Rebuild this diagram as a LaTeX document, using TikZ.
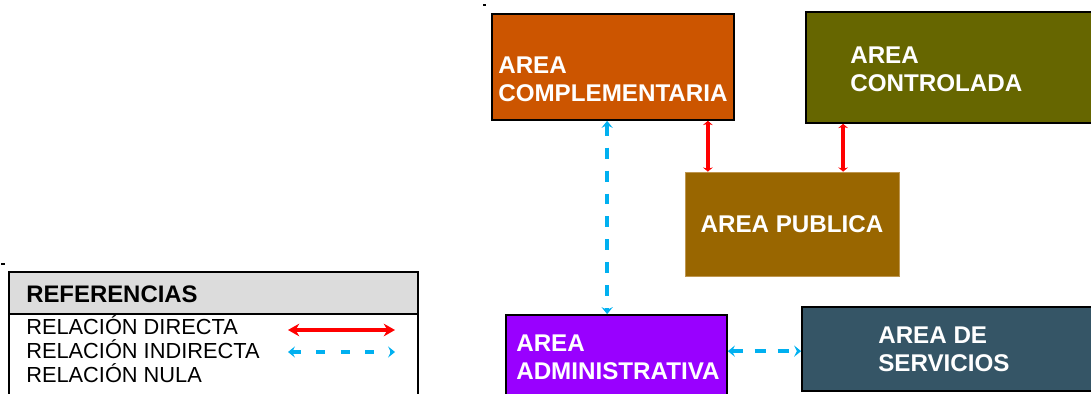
\documentclass[tikz,border=0pt]{standalone}
\usepackage{fontspec}
\setmainfont{Liberation Sans}
\usetikzlibrary{arrows.meta}

\definecolor{complcol}{RGB}{204,85,0}
\definecolor{ctrlcol}{RGB}{102,102,0}
\definecolor{pubcol}{RGB}{153,102,0}
\definecolor{admincol}{RGB}{153,0,255}
\definecolor{servcol}{RGB}{53,85,102}
\definecolor{directcol}{RGB}{255,0,0}
\definecolor{indirectcol}{RGB}{0,176,240}
\definecolor{headcol}{RGB}{220,220,220}

\begin{document}
\begin{tikzpicture}[
  x=0.025cm, y=-0.025cm,
  box/.style={draw=black, line width=1.2pt, inner sep=0pt},
  areatext/.style={text=white, font=\bfseries\fontsize{17.2}{19.8}\selectfont, align=left, inner sep=0pt, anchor=north west},
  reftext/.style={font=\fontsize{15.5}{18}\selectfont, inner sep=0pt, anchor=base west},
  direct/.style={draw=directcol, line width=2.4pt, {Stealth[length=3pt,width=7pt]}-{Stealth[length=3pt,width=7pt]}},
  indirect/.style={draw=indirectcol, line width=2.6pt, dash pattern=on 7.8pt off 8.5pt, {Stealth[length=5pt,width=8pt,inset=2pt]}-{Stealth[length=5pt,width=8pt,inset=2pt]}}
]
\clip (0,0) rectangle (1091,394);

% areas
\node[box, fill=complcol, minimum width=6.05cm, minimum height=2.65cm] (compl) at (613,67) {};
\node[areatext] (complT) at (498,57) {AREA\\COMPLEMENTARIA};
\node[box, fill=ctrlcol, minimum width=7.6cm, minimum height=2.775cm] (ctrl) at (958,67.5) {};
\node[areatext] (ctrlT) at (850,47) {AREA\\CONTROLADA};
\node[box, draw={rgb,255:red,190;green,150;blue,80}, line width=0.5pt, fill=pubcol, text=white,
  font=\bfseries\fontsize{17.2}{19.8}\selectfont, minimum width=5.35cm, minimum height=2.6cm] (pub) at (792,224) {AREA PUBLICA};
\node[box, fill=admincol, minimum width=5.525cm, minimum height=2.625cm] (admin) at (616.5,367.5) {};
\node[areatext] (adminT) at (516,335) {AREA\\ADMINISTRATIVA};
\node[box, fill=servcol, minimum width=7.7cm, minimum height=2.1cm] (serv) at (956,349) {};
\node[areatext] (servT) at (878,327) {AREA DE\\SERVICIOS};

% relations
\draw[direct] ([xshift=-0.675cm]compl.south east) coordinate (cp) -- (cp |- pub.north);
\draw[direct] ([xshift=0.95cm]ctrl.south west) coordinate (ct) -- (ct |- pub.north);
\draw[indirect] ([xshift=2.9cm]compl.south west) coordinate (ca) -- (ca |- admin.north);
\draw[indirect] ([yshift=-0.925cm]admin.north east) coordinate (as) -- (as -| serv.west);

% references
\node[box, minimum width=10.225cm, minimum height=3.7cm] (refbox) at (213.5,346) {};
\node[box, fill=headcol, minimum width=10.225cm, minimum height=1.05cm] (refhead) at (213.5,293) {};
\node[reftext, font=\bfseries\fontsize{17}{19}\selectfont] (reftitle) at (26,302) {REFERENCIAS};
\node[reftext] (rdir) at (26,334) {RELACIÓN DIRECTA};
\node[reftext] (rind) at (26,358) {RELACIÓN INDIRECTA};
\node[reftext] (rnul) at (26,382) {RELACIÓN NULA};
\coordinate (dirA) at (288,330);
\coordinate (dirB) at (395,330);
\coordinate (indA) at (288,352);
\coordinate (indB) at (395,352);
\draw[direct, {Stealth[length=8pt,width=9pt]}-{Stealth[length=8pt,width=9pt]}] (dirA) -- (dirB);
\draw[indirect, dash pattern=on 6.4pt off 11pt] (indA) -- (indB);

% stray marks
\fill (483,4) rectangle (486,6);
\fill (1,263) rectangle (5,265);
\end{tikzpicture}
\end{document}
